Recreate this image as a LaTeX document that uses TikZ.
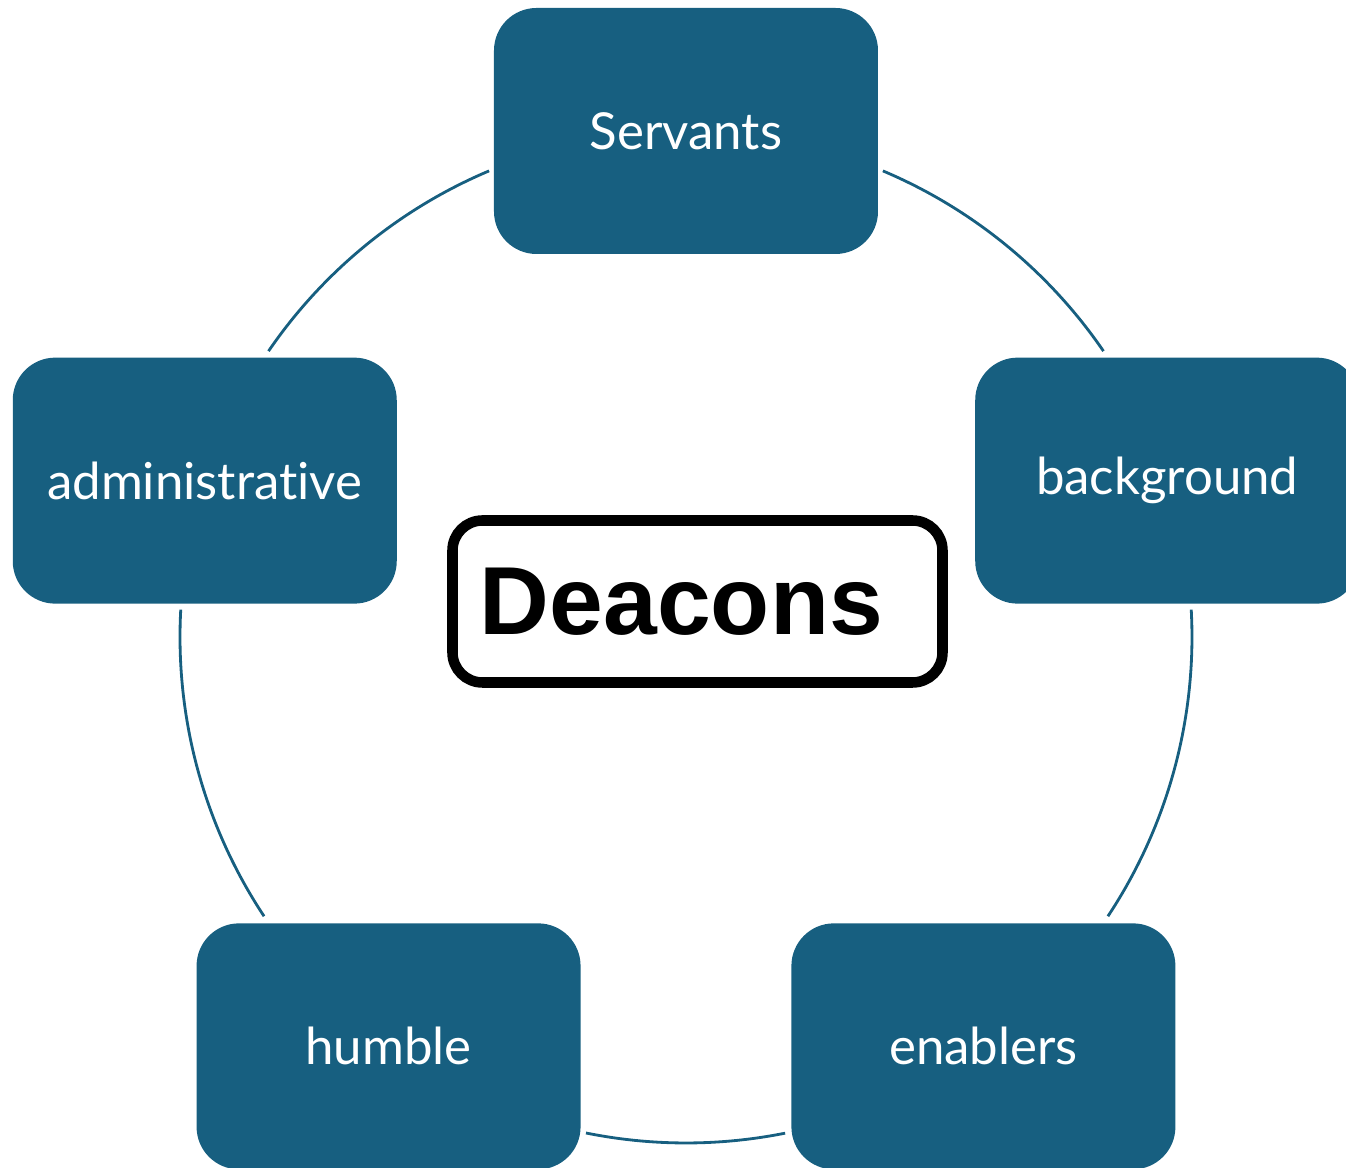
\documentclass[tikz,border=0pt]{standalone}
\usepackage{fontspec}
\setmainfont{Lato}[Ligatures=NoCommon]
\newfontfamily\deaconfont{Liberation Sans}
\definecolor{cycleblue}{RGB}{23,95,128}

\begin{document}
\begin{tikzpicture}[
  rolebox/.style={rectangle, rounded corners=0.85cm, fill=cycleblue,
    text=white, minimum width=7.68cm, minimum height=4.92cm,
    font=\fontsize{29}{34}\selectfont},
  ring/.style={draw=cycleblue, line width=1.6pt},
  centrebox/.style={draw=black, fill=white, line width=6pt,
    rounded corners=0.6cm, minimum width=9.8cm, minimum height=3.24cm,
    text width=8.7cm, inner xsep=0.55cm, align=left,
    font=\deaconfont\bfseries\fontsize{55}{60}\selectfont}]

\clip (-13.72,-10.62) rectangle (13.2,12.74);

\coordinate (c) at (0,0);

% the five roles round the ring
\node[rolebox] (servants)   at (90:10.12)   {Servants};
\node[rolebox] (background) at (18:10.12)   {background};
\node[rolebox] (enablers)   at (-54:10.12)  {enablers};
\node[rolebox] (humble)     at (-126:10.12) {humble};
\node[rolebox] (admin)      at (162:10.12)  {administrative};

% arcs between the boxes
\foreach \a/\b in {67.1/34.4, 3.1/-33.5, -78.7/-101.4, -146.5/-183.1, 145.6/112.9}
  \draw[ring] (c) ++(\a:10.12) arc[start angle=\a, end angle=\b, radius=10.12];

\node[centrebox] (deacons) at (0.23,0.71) {Deacons};

\end{tikzpicture}
\end{document}
